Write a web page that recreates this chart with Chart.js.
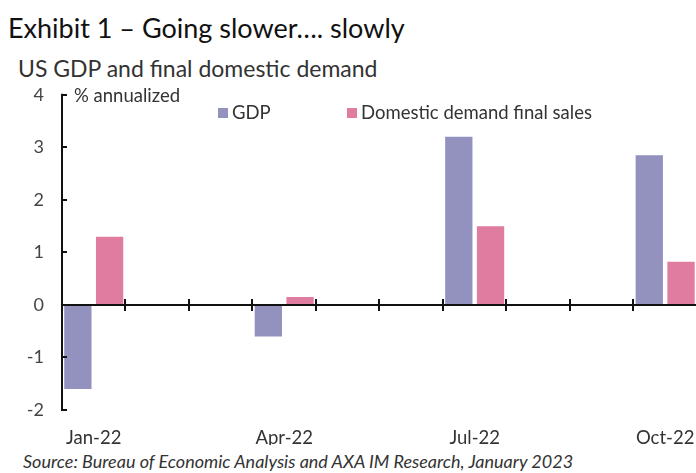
<!DOCTYPE html>
<html>
<head>
<meta charset="utf-8">
<script src="https://cdn.jsdelivr.net/npm/chart.js@4.4.1/dist/chart.umd.min.js"></script>
<style>
  html, body { margin: 0; padding: 0; background: #fff; overflow: hidden; width: 696px; height: 473px; }
  body { position: relative; font-family: Lato, "Open Sans", sans-serif; }
  .txt { position: absolute; white-space: nowrap; }
  #title { left: 8px; top: 11px; font-size: 27px; color: #111; }
  #subtitle { left: 18px; top: 54px; font-size: 23px; color: #333; }
  #unit { left: 74px; top: 84px; font-size: 18.5px; color: #333; }
  #legend { left: 218px; top: 101px; font-size: 18.5px; color: #333; }
  #legend span.item { position: absolute; top: 0; }
  #legend i { display: inline-block; width: 10px; height: 10px; margin-right: 4px; vertical-align: 1px; }
  #source { left: 23px; top: 450px; font-size: 18px; font-style: italic; color: #333; }
  #wrap { position: absolute; left: 0; top: 66px; width: 712px; height: 379px; }
</style>
</head>
<body>
<div id="title" class="txt">Exhibit 1 – Going slower…. slowly</div>
<div id="subtitle" class="txt">US GDP and final domestic demand</div>
<div id="wrap"><canvas id="bar_Chart"></canvas></div>
<div id="unit" class="txt">% annualized</div>
<div id="legend" class="txt"></div>
<div id="source" class="txt">Source: Bureau of Economic Analysis and AXA IM Research, January 2023</div>
<script>
// données (lecture du graphique)
const months = ['Jan-22', 'Feb-22', 'Mar-22', 'Apr-22', 'May-22', 'Jun-22',
                'Jul-22', 'Aug-22', 'Sep-22', 'Oct-22'];
const gdp = [-1.6, null, null, -0.6, null, null, 3.2, null, null, 2.85];
const domesticFinal = [1.3, null, null, 0.15, null, null, 1.5, null, null, 0.82];
const seriesNames = ['GDP', 'Domestic demand final sales'];
const seriesColors = ['#9391BE', '#E07C9F'];
const yTicks = [-2, -1, 0, 1, 2, 3, 4];

// axe horizontal à zéro + petits traits
const axisPlugin = {
  id: 'axisPlugin',
  afterDatasetsDraw(chart) {
    const ctx = chart.ctx;
    const x = chart.scales.x, y = chart.scales.y;
    const area = chart.chartArea;
    const y0 = y.getPixelForValue(0);
    ctx.save();
    ctx.strokeStyle = '#111';
    ctx.lineWidth = 2;
    ctx.beginPath();
    ctx.moveTo(area.left, y0);
    ctx.lineTo(area.right, y0);
    ctx.stroke();
    for (let i = 1; i <= months.length; i++) {
      const px = Math.round(x.getPixelForValue(i - 0.5));
      ctx.beginPath();
      ctx.moveTo(px, y0 - 6);
      ctx.lineTo(px, y0 + 6);
      ctx.stroke();
    }
    // axe vertical
    ctx.beginPath();
    ctx.moveTo(area.left, y.getPixelForValue(yTicks[yTicks.length - 1]) - 1);
    ctx.lineTo(area.left, y.getPixelForValue(yTicks[0]) + 1);
    ctx.stroke();
    yTicks.forEach(v => {
      const py = Math.round(y.getPixelForValue(v));
      ctx.beginPath();
      ctx.moveTo(area.left, py);
      ctx.lineTo(area.left + 5, py);
      ctx.stroke();
    });
    ctx.restore();
  }
};

const ctx_bar = document.getElementById('bar_Chart').getContext('2d');
const myChart = new Chart(ctx_bar, {
  type: 'bar',
  data: {
    labels: months,
    datasets: seriesNames.map((name, i) => ({
      label: name,
      data: i === 0 ? gdp : domesticFinal,
      backgroundColor: seriesColors[i],
      borderWidth: 0,
      barPercentage: 0.86,
      categoryPercentage: 1.0
    }))
  },
  options: {
    responsive: true,
    maintainAspectRatio: false,
    animation: false,
    layout: { padding: { top: 0, right: 12, left: 0, bottom: 0 } },
    plugins: {
      legend: { display: false },
      tooltip: { enabled: false }
    },
    scales: {
      x: {
        grid: { display: false, drawTicks: false },
        border: { display: false },
        ticks: {
          autoSkip: false,
          maxRotation: 0,
          padding: 17,
          color: '#333',
          font: { family: 'Lato', size: 18.5 },
          callback: function(value, index) {
            return index % 3 === 0 ? months[index] : '';
          }
        },
        afterFit: function(scale) { scale.height = 35; }
      },
      y: {
        min: -2,
        max: 4,
        grid: { display: false, drawTicks: false },
        border: { display: false },
        ticks: {
          stepSize: 1,
          padding: 18,
          color: '#444',
          font: { family: 'Lato', size: 18 }
        },
        afterFit: function(scale) { scale.width = 62; }
      }
    }
  },
  plugins: [axisPlugin]
});

// légende HTML
const legendPos = [0, 129];
const legend = document.getElementById('legend');
myChart.data.datasets.forEach((ds, i) => {
  const item = document.createElement('span');
  item.className = 'item';
  item.style.left = legendPos[i] + 'px';
  item.innerHTML = '<i style="background:' + ds.backgroundColor + '"></i>' + ds.label;
  legend.appendChild(item);
});
</script>
</body>
</html>
